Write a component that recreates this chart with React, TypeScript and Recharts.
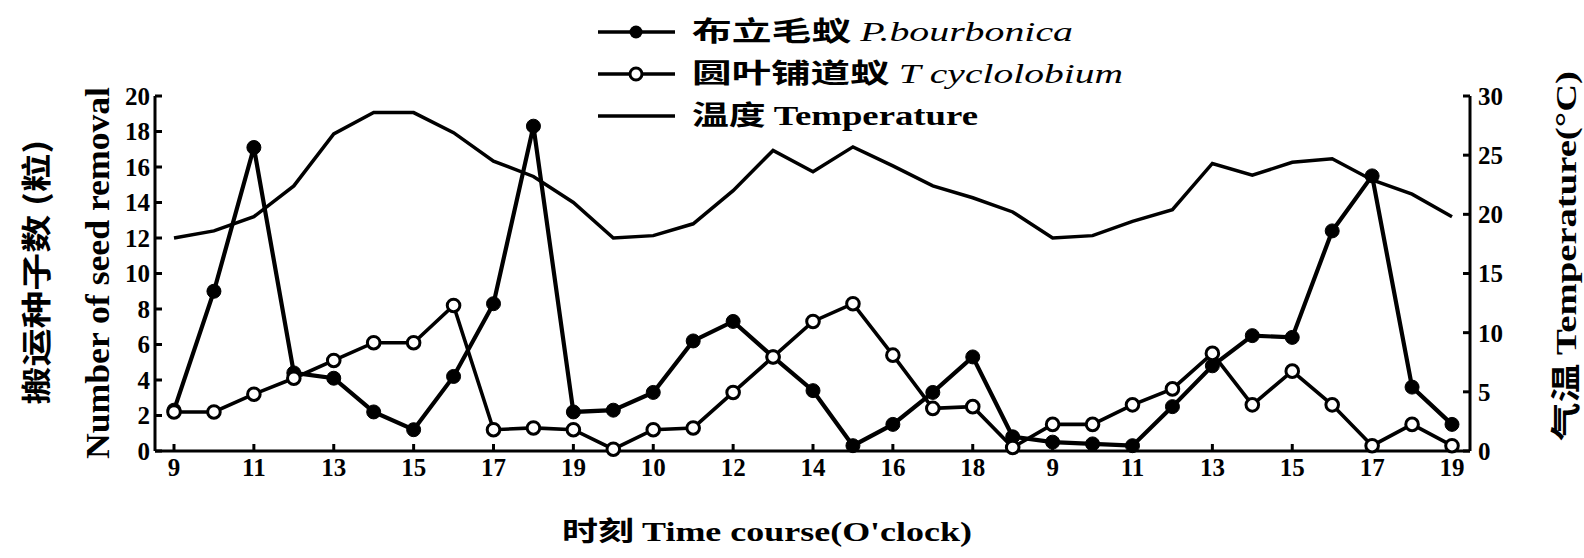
import React from 'react';
import { LineChart, Line, XAxis, YAxis, Legend } from 'recharts';

const hourLabels = [
  '9', '10', '11', '12', '13', '14', '15', '16', '17', '18', '19',
  '9', '10', '11', '12', '13', '14', '15', '16', '17', '18', '19',
  '9', '10', '11', '12', '13', '14', '15', '16', '17', '18', '19',
];

const bourbonica = [
  2.3, 9.0, 17.1, 4.4, 4.1, 2.2, 1.2, 4.2, 8.3, 18.3, 2.2,
  2.3, 3.3, 6.2, 7.3, 5.3, 3.4, 0.3, 1.5, 3.3, 5.3, 0.8,
  0.5, 0.4, 0.3, 2.5, 4.8, 6.5, 6.4, 12.4, 15.5, 3.6, 1.5,
];

const cyclolobium = [
  2.2, 2.2, 3.2, 4.1, 5.1, 6.1, 6.1, 8.2, 1.2, 1.3, 1.2,
  0.1, 1.2, 1.3, 3.3, 5.3, 7.3, 8.3, 5.4, 2.4, 2.5, 0.2,
  1.5, 1.5, 2.6, 3.5, 5.5, 2.6, 4.5, 2.6, 0.3, 1.5, 0.3,
];

const temperature = [
  18.0, 18.6, 19.8, 22.4, 26.8, 28.6, 28.6, 26.9, 24.5, 23.2, 21.0,
  18.0, 18.2, 19.2, 22.0, 25.4, 23.6, 25.7, 24.1, 22.4, 21.4, 20.2,
  18.0, 18.2, 19.4, 20.4, 24.3, 23.3, 24.4, 24.7, 22.9, 21.7, 19.8,
];

const leftTicks = [0, 2, 4, 6, 8, 10, 12, 14, 16, 18, 20];
const rightTicks = [0, 5, 10, 15, 20, 25, 30];
const xTicks = hourLabels.map((_, i) => i).filter((i) => i % 2 === 0);

const data = hourLabels.map((h, i) => ({
  idx: i,
  hour: h,
  bourbonica: bourbonica[i],
  cyclolobium: cyclolobium[i],
  temperature: temperature[i],
}));

const FONT = "'Liberation Serif', 'Times New Roman', 'Noto Sans CJK SC', serif";
const CJK = "'Noto Sans CJK SC', 'Liberation Serif', serif";

const tickStyle = { fontFamily: FONT, fontSize: 25, fontWeight: 700, fill: '#000' };

const FilledDot = (props: any) => {
  const { cx, cy } = props;
  if (cx == null || cy == null) return null;
  return <circle cx={cx} cy={cy} r={7} fill="#000" stroke="#000" strokeWidth={1} />;
};

const HollowDot = (props: any) => {
  const { cx, cy } = props;
  if (cx == null || cy == null) return null;
  return <circle cx={cx} cy={cy} r={6.3} fill="#fff" stroke="#000" strokeWidth={3} />;
};

const renderLegend = () => (
  <svg width={560} height={130} style={{ overflow: 'visible' }}>
    <g>
      <line x1={8} y1={24} x2={85} y2={24} stroke="#000" strokeWidth={3.5} />
      <circle cx={46} cy={24} r={6.5} fill="#000" />
      <text x={102} y={33} fontFamily={FONT} fontSize={27} fill="#000" textLength={381} lengthAdjust="spacingAndGlyphs">
        <tspan fontFamily={CJK} fontWeight={700}>布立毛蚁 </tspan>
        <tspan fontStyle="italic">P.bourbonica</tspan>
      </text>
    </g>
    <g>
      <line x1={8} y1={66} x2={85} y2={66} stroke="#000" strokeWidth={3.5} />
      <circle cx={46} cy={66} r={6} fill="#fff" stroke="#000" strokeWidth={3} />
      <text x={102} y={75} fontFamily={FONT} fontSize={27} fill="#000" textLength={431} lengthAdjust="spacingAndGlyphs">
        <tspan fontFamily={CJK} fontWeight={700}>圆叶铺道蚁 </tspan>
        <tspan fontStyle="italic">T cyclolobium</tspan>
      </text>
    </g>
    <g>
      <line x1={8} y1={108} x2={85} y2={108} stroke="#000" strokeWidth={3.5} />
      <text x={102} y={117} fontFamily={FONT} fontSize={27} fill="#000" fontWeight={700} textLength={286} lengthAdjust="spacingAndGlyphs">
        <tspan fontFamily={CJK}>温度 </tspan>
        <tspan>Temperature</tspan>
      </text>
    </g>
  </svg>
);

export default function App() {
  return (
    <div style={{ position: 'absolute', left: 0, top: 0, width: 1584, height: 558, background: '#fff' }}>
      <LineChart
        width={1584}
        height={558}
        data={data}
        margin={{ top: 96, right: 0, bottom: 0, left: 0 }}
      >
        <XAxis
          dataKey="idx"
          type="number"
          domain={[0, 32]}
          ticks={xTicks}
          tickFormatter={(v: number) => hourLabels[v]}
          padding={{ left: 19, right: 18 }}
          height={107}
          stroke="#000"
          strokeWidth={3}
          tickSize={-7}
          tickMargin={14}
          tick={tickStyle}
          interval={0}
        />
        <YAxis
          yAxisId="left"
          orientation="left"
          domain={[0, 20]}
          ticks={leftTicks}
          width={155}
          stroke="#000"
          strokeWidth={3}
          tickSize={-7}
          tickMargin={12}
          tick={tickStyle}
          interval={0}
        />
        <YAxis
          yAxisId="right"
          orientation="right"
          domain={[0, 30]}
          ticks={rightTicks}
          width={114}
          stroke="#000"
          strokeWidth={3}
          tickSize={-7}
          tickMargin={15}
          tick={tickStyle}
          interval={0}
        />
        <Legend
          layout="vertical"
          align="center"
          verticalAlign="middle"
          content={renderLegend}
          wrapperStyle={{ left: 590, top: 8, width: 560, height: 130 }}
        />
        <Line
          yAxisId="right"
          type="linear"
          dataKey="temperature"
          stroke="#000"
          strokeWidth={3.5}
          dot={false}
          activeDot={false}
          isAnimationActive={false}
        />
        <Line
          yAxisId="left"
          type="linear"
          dataKey="bourbonica"
          stroke="#000"
          strokeWidth={4.2}
          dot={<FilledDot />}
          activeDot={false}
          isAnimationActive={false}
        />
        <Line
          yAxisId="left"
          type="linear"
          dataKey="cyclolobium"
          stroke="#000"
          strokeWidth={3.6}
          dot={<HollowDot />}
          activeDot={false}
          isAnimationActive={false}
        />
      </LineChart>
      <svg
        width={1584}
        height={558}
        style={{ position: 'absolute', left: 0, top: 0, pointerEvents: 'none' }}
      >
        <text
          transform="translate(47, 272) rotate(-90)"
          textAnchor="middle"
          fontFamily={CJK}
          fontWeight={700}
          fontSize={30}
          fill="#000"
          textLength={265}
          lengthAdjust="spacingAndGlyphs"
        >
          搬运种子数 (粒)
        </text>
        <text
          transform="translate(109, 273) rotate(-90)"
          textAnchor="middle"
          fontFamily={FONT}
          fontWeight={700}
          fontSize={33}
          fill="#000"
          textLength={372}
          lengthAdjust="spacingAndGlyphs"
        >
          Number of seed removal
        </text>
        <text
          transform="translate(1576, 256) rotate(-90)"
          textAnchor="middle"
          fontFamily={FONT}
          fontWeight={700}
          fontSize={30}
          fill="#000"
          textLength={370}
          lengthAdjust="spacingAndGlyphs"
        >
          <tspan fontFamily={CJK}>气温 </tspan>
          <tspan>Temperature(°C)</tspan>
        </text>
        <text
          x={767}
          y={541}
          textAnchor="middle"
          fontFamily={FONT}
          fontWeight={700}
          fontSize={27}
          fill="#000"
          textLength={410}
          lengthAdjust="spacingAndGlyphs"
        >
          <tspan fontFamily={CJK}>时刻 </tspan>
          <tspan>Time course(O'clock)</tspan>
        </text>
      </svg>
    </div>
  );
}
